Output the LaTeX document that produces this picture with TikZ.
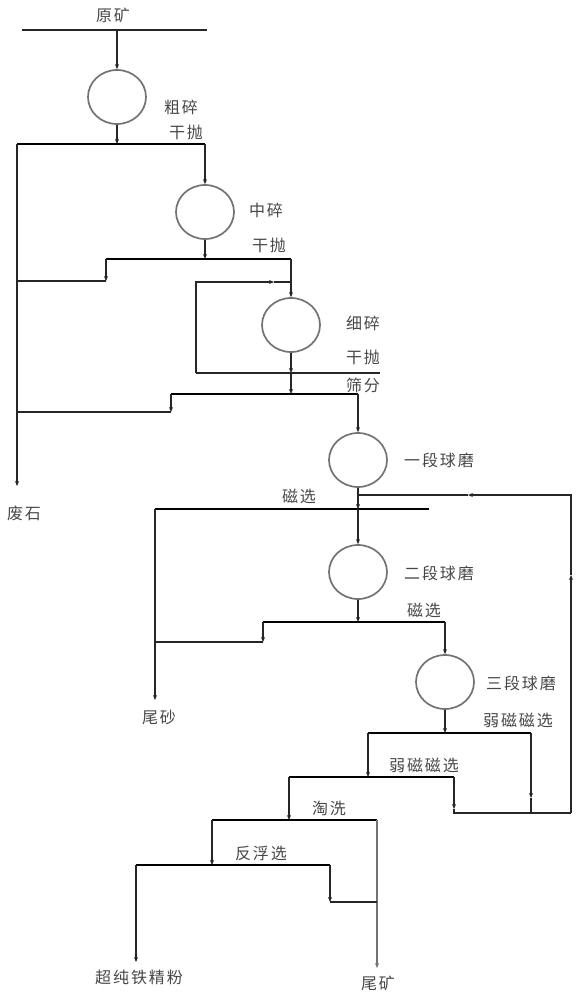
\documentclass[tikz,border=0pt]{standalone}
\usepackage{fontspec}
\newfontfamily\cjk[LetterSpace=12]{Noto Sans CJK SC}
\usetikzlibrary{shapes.geometric,arrows.meta}
\begin{document}
\begin{tikzpicture}[x=1pt,y=-1pt,
  flow/.style={draw=black!85,line width=1.2pt},
  bar/.style={draw=black,line width=2.8pt},
  tail/.style={draw=black!55,line width=1.2pt},
  arw/.style={-{Stealth[length=5pt,width=4pt]}},
  mill/.style={ellipse,draw=black!55,line width=1.7pt,minimum width=58pt,minimum height=54pt,inner sep=0pt},
  lbl/.style={font=\cjk\fontsize{16}{18}\selectfont,text=black!72,inner sep=0pt}]
\useasboundingbox (0,0) rectangle (579,1000);
% mills
\node[mill] (c1) at (117,97) {};
\node[mill] (c2) at (205,212) {};
\node[mill] (c3) at (291,325) {};
\node[mill] (c4) at (358,460) {};
\node[mill] (c5) at (358,572) {};
\node[mill] (c6) at (445,682) {};
% coordinates
\coordinate (fL) at (22,30);   \coordinate (fR) at (207,30);  \coordinate (f1) at (117,30);
\coordinate (b1L) at (17,144); \coordinate (b1R) at (205,144); \coordinate (b1m) at (117,144);
\coordinate (w1) at (17,486);
\coordinate (b2L) at (106,259); \coordinate (b2R) at (291,259); \coordinate (b2m) at (205,259);
\coordinate (b2d) at (106,281); \coordinate (w2) at (17,281);
\coordinate (lpB) at (196,373); \coordinate (lpT) at (196,282); \coordinate (lpA) at (274,282); \coordinate (lpJ) at (291,282);
\coordinate (scR) at (380,373); \coordinate (scM) at (291,373);
\coordinate (b3L) at (171,394); \coordinate (b3R) at (358,394); \coordinate (b3m) at (291,394);
\coordinate (b3d) at (171,412); \coordinate (w3) at (17,412);
\coordinate (rcJ) at (358,495); \coordinate (rcA) at (468,495); \coordinate (rcR) at (571,495);
\coordinate (rcU) at (571,575); \coordinate (rcB) at (571,813);
\coordinate (b4L) at (155,509); \coordinate (b4R) at (429,509); \coordinate (b4m) at (358,509);
\coordinate (t1) at (155,700);
\coordinate (b5L) at (263,622); \coordinate (b5R) at (445,622); \coordinate (b5m) at (358,622);
\coordinate (b5d) at (263,642); \coordinate (t2) at (155,642);
\coordinate (b6L) at (368,733); \coordinate (b6R) at (531,733); \coordinate (b6m) at (445,733);
\coordinate (b6a) at (531,798); \coordinate (b6d) at (531,813);
\coordinate (b7L) at (289,777); \coordinate (b7R) at (454,777); \coordinate (b7m) at (368,777);
\coordinate (b7a) at (454,809); \coordinate (b7d) at (454,813);
\coordinate (b8L) at (212,820); \coordinate (b8R) at (377,820); \coordinate (b8m) at (289,820);
\coordinate (tk) at (377,968);
\coordinate (b9L) at (136,865); \coordinate (b9R) at (330,865); \coordinate (b9m) at (212,865);
\coordinate (b9d) at (330,902); \coordinate (b9J) at (377,902);
\coordinate (cp) at (136,962);
% feed
\draw[flow] (fL) -- (fR);
\draw[flow,arw] (f1) -- (c1.north);
\draw[flow,arw] (c1.south) -- (b1m);
\draw[bar] (b1L) -- (b1R);
\draw[flow,arw] (b1L) -- (w1);
\draw[flow,arw] (b1R) -- (c2.north);
\draw[flow,arw] (c2.south) -- (b2m);
\draw[bar] (b2L) -- (b2R);
\draw[flow,arw] (b2L) -- (b2d);
\draw[flow] (b2d) -- (w2);
\draw[flow,arw] (b2R) -- (c3.north);
\draw[flow,arw] (lpB) -- (lpT) -- (lpA);
\draw[flow] (lpA) -- (lpJ);
\draw[flow] (lpB) -- (scR);
\draw[flow,arw] (c3.south) -- (scM);
\draw[flow,arw] (scM) -- (b3m);
\draw[bar] (b3L) -- (b3R);
\draw[flow,arw] (b3L) -- (b3d);
\draw[flow] (b3d) -- (w3);
\draw[flow,arw] (b3R) -- (c4.north);
\draw[flow,arw] (c4.south) -- (b4m);
\draw[bar] (b4L) -- (b4R);
\draw[flow,arw] (b4m) -- (c5.north);
\draw[flow,arw] (b4L) -- (t1);
\draw[flow,arw] (c5.south) -- (b5m);
\draw[bar] (b5L) -- (b5R);
\draw[flow,arw] (b5L) -- (b5d);
\draw[flow] (b5d) -- (t2);
\draw[flow,arw] (b5R) -- (c6.north);
\draw[flow,arw] (c6.south) -- (b6m);
\draw[bar] (b6L) -- (b6R);
\draw[flow,arw] (b6R) -- (b6a);
\draw[flow] (b6a) -- (b6d);
\draw[flow,arw] (b6L) -- (b7m);
\draw[bar] (b7L) -- (b7R);
\draw[flow,arw] (b7R) -- (b7a);
\draw[flow] (b7a) -- (b7d) -- (rcB);
\draw[flow,arw] (rcB) -- (rcU);
\draw[flow,arw] (rcU) -- (rcR) -- (rcA);
\draw[flow] (rcA) -- (rcJ);
\draw[flow,arw] (b7L) -- (b8m);
\draw[bar] (b8L) -- (b8R);
\draw[tail,arw] (b8R) -- (tk);
\draw[flow,arw] (b8L) -- (b9m);
\draw[bar] (b9L) -- (b9R);
\draw[flow,arw] (b9R) -- (b9d);
\draw[flow] (b9d) -- (b9J);
\draw[flow,arw] (b9L) -- (cp);
% labels
\node[lbl] (l0) at (113,15) {原矿};
\node[lbl] (l1) at (181,107) {粗碎};
\node[lbl] (l2) at (186,132) {干抛};
\node[lbl] (l3) at (266,210) {中碎};
\node[lbl] (l4) at (269,245) {干抛};
\node[lbl] (l5) at (363,323) {细碎};
\node[lbl] (l6) at (363,357) {干抛};
\node[lbl] (l7) at (363,385) {筛分};
\node[lbl] (l8) at (439,460) {一段球磨};
\node[lbl] (l9) at (299,496) {磁选};
\node[lbl] (l10) at (439,573) {二段球磨};
\node[lbl] (l11) at (424,610) {磁选};
\node[lbl] (l12) at (521,683) {三段球磨};
\node[lbl] (l13) at (518,720) {弱磁磁选};
\node[lbl] (l14) at (424,765) {弱磁磁选};
\node[lbl] (l15) at (329,808) {淘洗};
\node[lbl] (l16) at (261,853) {反浮选};
\node[lbl] (l17) at (139,977) {超纯铁精粉};
\node[lbl] (l18) at (378,983) {尾矿};
\node[lbl] (l19) at (159,717) {尾砂};
\node[lbl] (l20) at (24,513) {废石};
\end{tikzpicture}
\end{document}
